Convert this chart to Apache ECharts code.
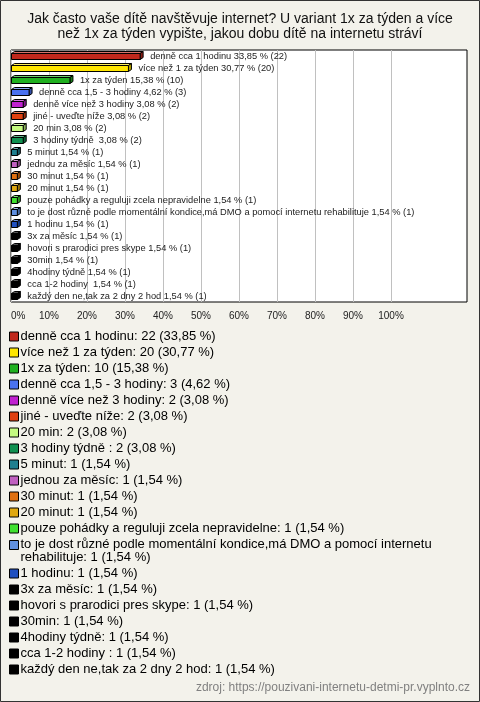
<!DOCTYPE html>
<html>
<head>
<meta charset="utf-8">
<script src="https://cdn.jsdelivr.net/npm/echarts@6/dist/echarts.min.js"></script>
<style>
html,body{margin:0;padding:0;background:#f3f2eb;}
#chart{width:480px;height:702px;}
</style>
</head>
<body>
<div id="chart"></div>
<script>
const titleText = 'Jak často vaše dítě navštěvuje internet? U variant 1x za týden a více\nnež 1x za týden vypište, jakou dobu dítě na internetu stráví';
const sourceText = 'zdroj: https://pouzivani-internetu-detmi-pr.vyplnto.cz';

const categories = [
  'denně cca 1 hodinu',
  'více než 1 za týden',
  '1x za týden',
  'denně cca 1,5 - 3 hodiny',
  'denně více než 3 hodiny',
  'jiné - uveďte níže',
  '20 min',
  '3 hodiny týdně ',
  '5 minut',
  'jednou za měsíc',
  '30 minut',
  '20 minut',
  'pouze pohádky a reguluji zcela nepravidelne',
  'to je dost různé podle momentální kondice,má DMO a pomocí internetu rehabilituje',
  '1 hodinu',
  '3x za měsíc',
  'hovori s prarodici pres skype',
  '30min',
  '4hodiny týdně',
  'cca 1-2 hodiny ',
  'každý den ne,tak za 2 dny 2 hod'
];
const percents = [33.85, 30.77, 15.38, 4.62, 3.08, 3.08, 3.08, 3.08, 1.54, 1.54, 1.54, 1.54, 1.54, 1.54, 1.54, 1.54, 1.54, 1.54, 1.54, 1.54, 1.54];
const counts = [22, 20, 10, 3, 2, 2, 2, 2, 1, 1, 1, 1, 1, 1, 1, 1, 1, 1, 1, 1, 1];
const colors = ['#c0281c', '#ffe600', '#20b020', '#4a72f0', '#c020d0', '#e04010', '#c4fa80', '#109050', '#207f8f', '#c060c0', '#e07010', '#e0a810', '#40e030', '#6090e0', '#2050c0', '#000000', '#000000', '#000000', '#000000', '#000000', '#000000'];
const tickLabels = ['0%', '10%', '20%', '30%', '40%', '50%', '60%', '70%', '80%', '90%', '100%'];

const FONT = '"Liberation Sans", Arial, sans-serif';

function fmtPct(v) { return v.toFixed(2).replace('.', ','); }
function mix(hex, target, t) {
  const a = parseInt(hex.slice(1), 16), b = parseInt(target.slice(1), 16);
  const r = Math.round(((a >> 16) & 255) * (1 - t) + ((b >> 16) & 255) * t);
  const g = Math.round(((a >> 8) & 255) * (1 - t) + ((b >> 8) & 255) * t);
  const bl = Math.round((a & 255) * (1 - t) + (b & 255) * t);
  return 'rgb(' + r + ',' + g + ',' + bl + ')';
}
function legendLabel(name) {
  const i = categories.indexOf(name);
  let s = name + ': ' + counts[i] + ' (' + fmtPct(percents[i]) + ' %)';
  if (s.length > 70) {
    const k = s.lastIndexOf(' ', 70);
    s = '{a|' + s.slice(0, k) + '}\n{b|' + s.slice(k + 1) + '}';
  }
  return s;
}

const series = categories.map(function (name, idx) {
  return {
    type: 'custom',
    name: name,
    itemStyle: { color: colors[idx] },
    encode: { x: 0, y: 1 },
    data: [[percents[idx], idx]],
    renderItem: function (params, api) {
      const v = api.value(0), c = api.value(1);
      const p0 = api.coord([0, c]);
      const p1 = api.coord([v, c]);
      const x0 = p0[0] + 0.5, x1 = p1[0] + 0.5, cy = Math.round(p0[1]) + 0.5;
      const dx = 3, dy = 2, ht = 3, hb = 3;
      const col = colors[idx];
      const stroke = { stroke: '#000', lineWidth: 1 };
      return {
        type: 'group',
        children: [
          { type: 'polygon', shape: { points: [[x0, cy - ht], [x0 + dx, cy - ht - dy], [x1 + dx, cy - ht - dy], [x1, cy - ht]] },
            style: Object.assign({ fill: mix(col, '#ffffff', 0.35) }, stroke) },
          { type: 'polygon', shape: { points: [[x1, cy - ht], [x1 + dx, cy - ht - dy], [x1 + dx, cy + hb - dy], [x1, cy + hb]] },
            style: Object.assign({ fill: mix(col, '#000000', 0.3) }, stroke) },
          { type: 'rect', shape: { x: x0, y: cy - ht, width: x1 - x0, height: ht + hb },
            style: Object.assign({ fill: col }, stroke) },
          { type: 'text', style: { x: x1 + dx + 7, y: cy, text: name + ' ' + fmtPct(percents[idx]) + ' % (' + counts[idx] + ')',
              font: '9.3px ' + FONT, fill: '#222', verticalAlign: 'middle', align: 'left' } }
        ]
      };
    }
  };
});

const splitColors = [];
for (let i = 0; i <= 12; i++) splitColors.push(i <= 10 ? '#c0c0c0' : 'rgba(0,0,0,0)');

const chart = echarts.init(document.getElementById('chart'), null, { renderer: 'canvas' });
chart.setOption({
  animation: false,
  backgroundColor: '#f3f2eb',
  title: {
    text: titleText,
    left: 'center',
    top: 12,
    padding: 0,
    textStyle: { fontSize: 14, lineHeight: 15, fontWeight: 'normal', color: '#111', fontFamily: FONT }
  },
  grid: {
    left: 11, right: 13, top: 50, bottom: 400,
    show: true, backgroundColor: '#ffffff', borderColor: '#000', borderWidth: 1,
    containLabel: false, outerBoundsMode: 'none'
  },
  xAxis: {
    type: 'value', min: 0, max: 120, interval: 10,
    axisLine: { show: false }, axisTick: { show: false },
    splitLine: { show: true, lineStyle: { color: splitColors, width: 1 } },
    axisLabel: {
      margin: 9, fontSize: 10, color: '#222', fontFamily: FONT,
      alignMinLabel: 'left',
      formatter: function (v) { const i = Math.round(v / 10); return i < tickLabels.length ? tickLabels[i] : ''; }
    }
  },
  yAxis: {
    type: 'category', inverse: true, data: categories,
    axisLine: { show: false }, axisTick: { show: false }, axisLabel: { show: false }, splitLine: { show: false }
  },
  legend: {
    orient: 'vertical', left: 9, top: 330, padding: 0, itemGap: 3,
    itemWidth: 9, itemHeight: 9, icon: 'rect', selectedMode: false,
    itemStyle: { borderColor: '#000', borderWidth: 1 },
    textStyle: {
      fontSize: 13, lineHeight: 13, color: '#000', fontFamily: FONT, padding: [0, 0, 0, -3],
      rich: {
        a: { fontSize: 13, fontFamily: FONT, color: '#000', lineHeight: 13 },
        b: { fontSize: 13, fontFamily: FONT, color: '#000', lineHeight: 1, height: 13, verticalAlign: 'top' }
      }
    },
    formatter: legendLabel,
    data: categories
  },
  graphic: [
    { type: 'text', right: 10, top: 682, style: { text: sourceText, font: '12px ' + FONT, fill: '#808080' } },
    { type: 'rect', silent: true, shape: { x: 0.5, y: 0.5, width: 479, height: 701 }, style: { fill: 'none', stroke: '#333', lineWidth: 1 } }
  ],
  series: series
});
</script>
</body>
</html>
